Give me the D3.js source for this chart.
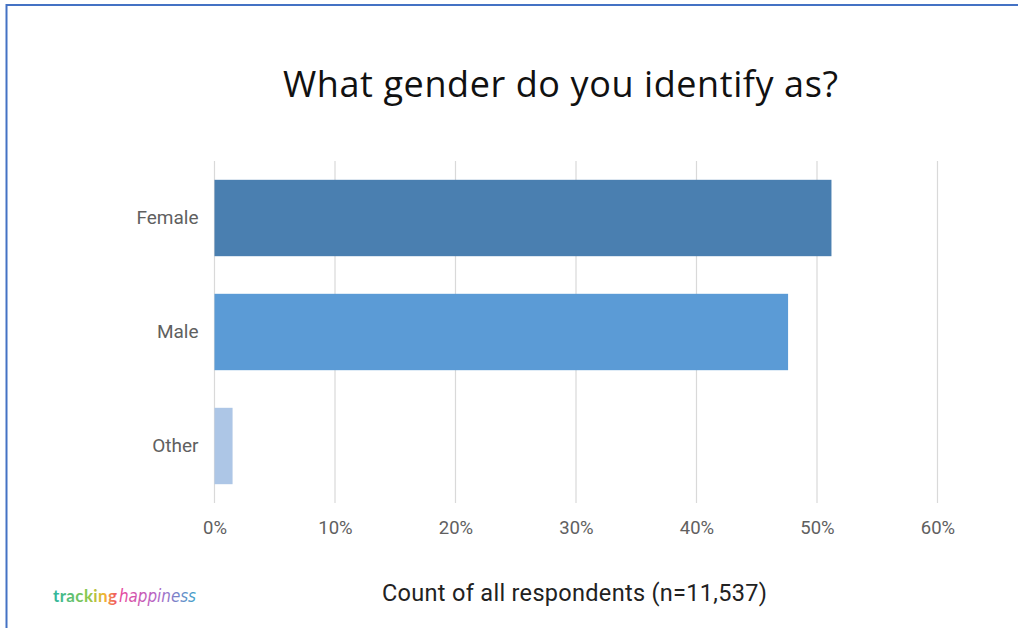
<!DOCTYPE html>
<html>
<head>
<meta charset="utf-8" />
<title>What gender do you identify as?</title>
<script src="https://cdnjs.cloudflare.com/ajax/libs/d3/7.8.5/d3.min.js"></script>
<style>
  body { margin: 0; padding: 0; background: #fff; }
  svg { display: block; }
</style>
</head>
<body>
<div id="chart"></div>
<script>
// data
var categories = ["Female", "Male", "Other"];
var shares = [51.2, 47.6, 1.5];
var barColors = ["#4a7fb0", "#5b9bd6", "#adc6e6"];
var xTicks = [0, 10, 20, 30, 40, 50, 60];
var title = "What gender do you identify as?";
var caption = "Count of all respondents (n=11,537)";

var width = 1018, height = 628;
var svg = d3.select("#chart").append("svg")
    .attr("width", width).attr("height", height);

// frame (top and left edges only are visible)
svg.append("line").attr("x1", 6).attr("x2", width).attr("y1", 5).attr("y2", 5)
    .attr("stroke", "#4472c4").attr("stroke-width", 2);
svg.append("line").attr("x1", 6.5).attr("x2", 6.5).attr("y1", 4).attr("y2", height)
    .attr("stroke", "#4472c4").attr("stroke-width", 2);

var plotLeft = 214.5, plotRight = 937.5, plotTop = 161, plotBottom = 503;

var x = d3.scaleLinear().domain([0, 60]).range([plotLeft, plotRight]);
var y = d3.scaleBand().domain(categories).range([plotTop, plotBottom]).paddingInner(0.33).paddingOuter(0.165);

// gridlines
svg.append("g").selectAll("line").data(xTicks).join("line")
    .attr("x1", d => x(d)).attr("x2", d => x(d))
    .attr("y1", plotTop).attr("y2", plotBottom)
    .attr("stroke", "#d9d9d9").attr("stroke-width", 1.2);

// bars
svg.append("g").selectAll("rect").data(categories).join("rect")
    .attr("x", x(0))
    .attr("y", d => y(d))
    .attr("width", (d, i) => x(shares[i]) - x(0))
    .attr("height", y.bandwidth())
    .attr("fill", (d, i) => barColors[i]);

// x axis labels
var xAxis = d3.axisBottom(x).tickValues(xTicks).tickFormat(d => d + "%").tickSize(0).tickPadding(0);
var gx = svg.append("g").attr("transform", "translate(0," + (plotBottom + 31) + ")").call(xAxis);
gx.select(".domain").remove();
gx.selectAll("text").attr("font-family", "Roboto, sans-serif").attr("font-size", 18.5)
    .attr("fill", "#606060").attr("dy", 0);

// y axis labels
var yAxis = d3.axisLeft(y).tickSize(0).tickPadding(16);
var gy = svg.append("g").attr("transform", "translate(" + plotLeft + ",0)").call(yAxis);
gy.select(".domain").remove();
gy.selectAll("text").attr("font-family", "Roboto, sans-serif").attr("font-size", 19)
    .attr("fill", "#606060");

// title
svg.append("text").attr("x", 283).attr("y", 97)
    .attr("font-family", "'Open Sans', sans-serif").attr("font-size", 36)
    .attr("textLength", 555).attr("lengthAdjust", "spacing")
    .attr("fill", "#111").text(title);

// caption
svg.append("text").attr("x", 382).attr("y", 601)
    .attr("font-family", "Roboto, sans-serif").attr("font-size", 23.5)
    .attr("textLength", 385).attr("lengthAdjust", "spacing")
    .attr("fill", "#222").text(caption);

// logo
var defs = svg.append("defs");
var g1 = defs.append("linearGradient").attr("id", "gTrack").attr("x1", "0%").attr("x2", "100%");
g1.append("stop").attr("offset", "0%").attr("stop-color", "#2bb5a0");
g1.append("stop").attr("offset", "55%").attr("stop-color", "#8cc84b");
g1.append("stop").attr("offset", "80%").attr("stop-color", "#f2b632");
g1.append("stop").attr("offset", "100%").attr("stop-color", "#ef4f6a");
var g2 = defs.append("linearGradient").attr("id", "gHappy").attr("x1", "0%").attr("x2", "100%");
g2.append("stop").attr("offset", "0%").attr("stop-color", "#e8479a");
g2.append("stop").attr("offset", "50%").attr("stop-color", "#b266c7");
g2.append("stop").attr("offset", "100%").attr("stop-color", "#3fa0c8");

svg.append("text").attr("x", 53).attr("y", 602)
    .attr("font-family", "Lato, sans-serif").attr("font-weight", "bold").attr("font-size", 17)
    .attr("textLength", 64).attr("lengthAdjust", "spacing")
    .attr("fill", "url(#gTrack)").text("tracking");
svg.append("text").attr("x", 119).attr("y", 602)
    .attr("font-family", "'DejaVu Sans', sans-serif").attr("font-style", "italic").attr("font-size", 17)
    .attr("textLength", 77).attr("lengthAdjust", "spacingAndGlyphs")
    .attr("fill", "url(#gHappy)").text("happiness");
</script>
</body>
</html>
